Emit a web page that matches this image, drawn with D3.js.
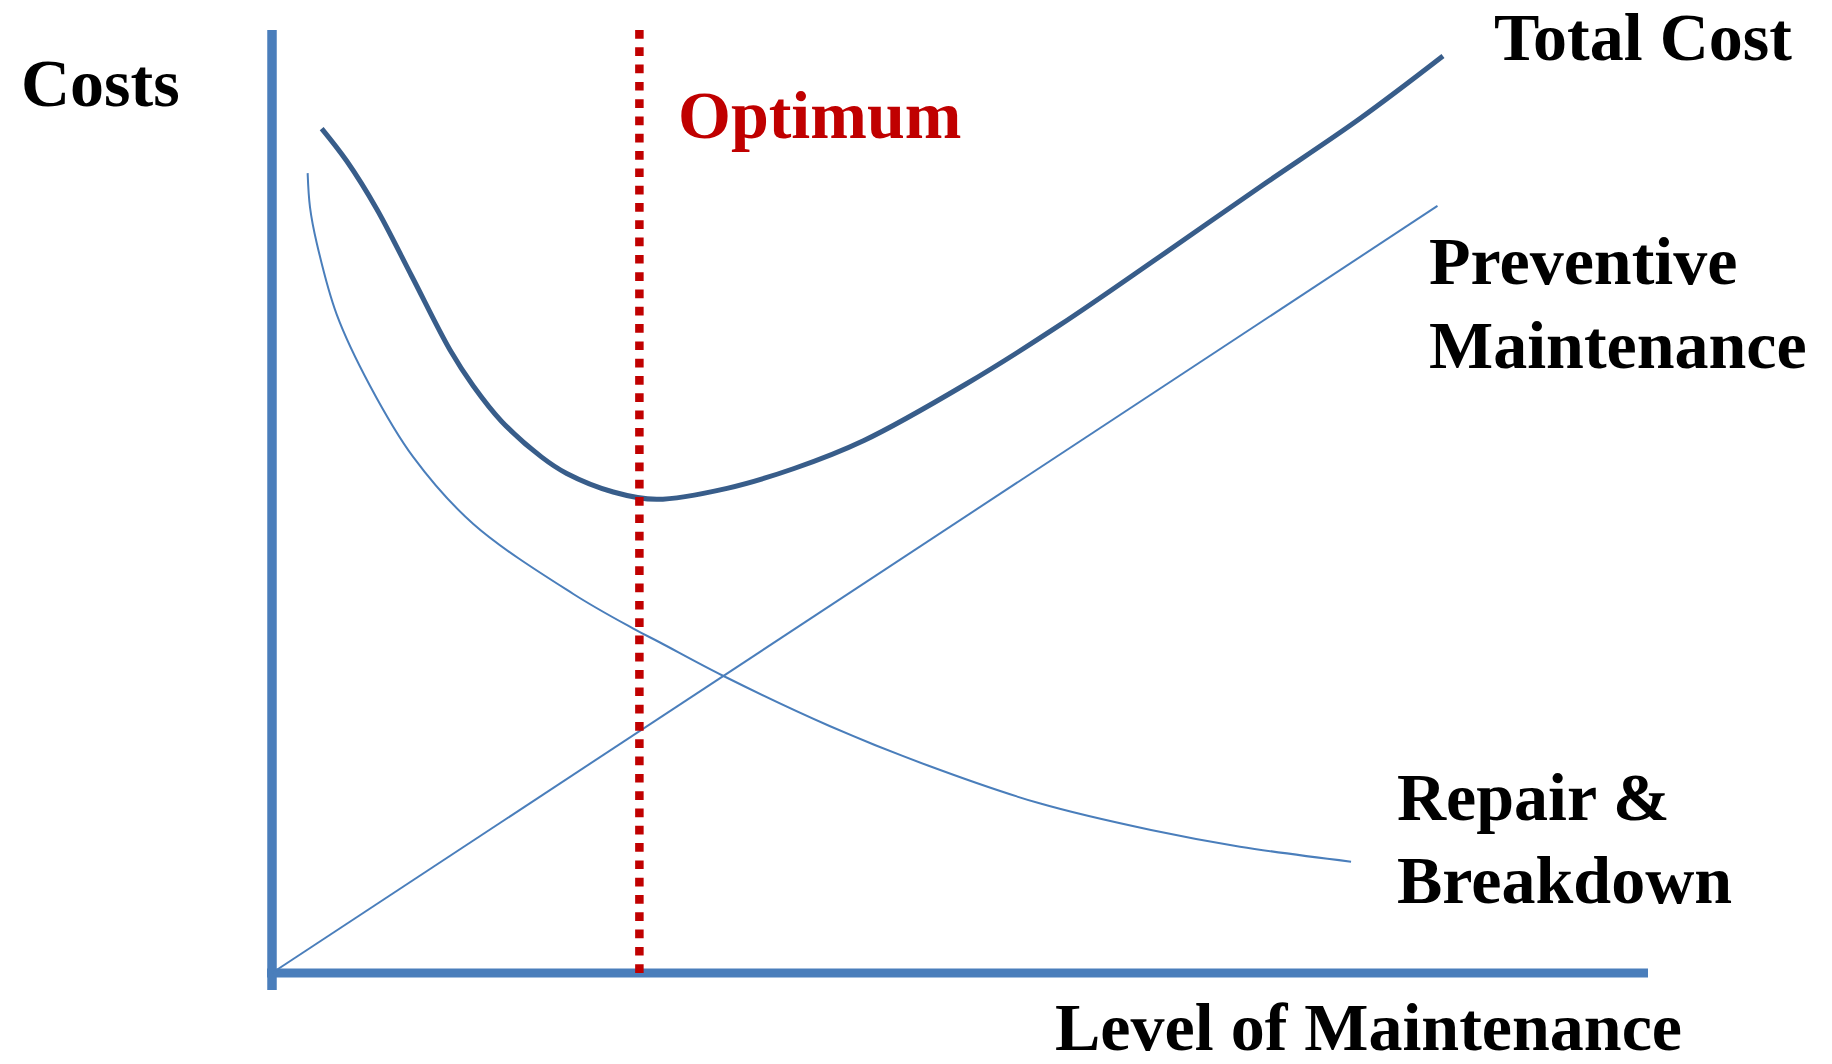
<!DOCTYPE html>
<html>
<head>
<meta charset="utf-8">
<script src="https://cdn.jsdelivr.net/npm/d3@7"></script>
<style>
  html, body { margin: 0; padding: 0; background: #ffffff; }
  svg { display: block; }
  text { font-family: "Liberation Serif", "Times New Roman", serif; font-weight: bold; }
</style>
</head>
<body>
<svg id="chart" width="1832" height="1064"></svg>
<script>
// Level of maintenance (x) against cost (y), both on a 0–100 scale
const totalCostLevel = [3.61, 5.43, 7.61, 10.15, 12.94, 14.63, 16.69, 19.60, 21.42, 24.80, 27.96, 33.07, 37.94, 43.02, 50.44, 57.27, 64.53, 71.80, 79.07, 85.10];
const totalCostValue = [89.83, 86.38, 81.28, 74.15, 66.28, 62.45, 58.68, 54.88, 53.14, 51.17, 50.39, 51.56, 53.67, 56.65, 62.66, 68.94, 76.22, 83.62, 90.90, 97.55];

const repairLevel = [2.59, 2.76, 3.25, 4.70, 7.12, 10.27, 14.63, 21.90, 26.26, 28.20, 32.74, 40.52, 47.67, 55.78, 63.88, 70.35, 78.42];
const repairValue = [85.09, 81.48, 77.67, 70.07, 62.48, 54.88, 47.77, 40.32, 36.64, 35.16, 31.65, 26.28, 22.07, 18.05, 15.21, 13.44, 11.84];

const preventiveLevel = [0, 84.7];
const preventiveValue = [0, 81.6];

const optimumLevel = 26.7;

const axisTitles = { y: "Costs", x: "Level of Maintenance" };
const seriesLabels = {
  total: ["Total Cost"],
  preventive: ["Preventive", "Maintenance"],
  repair: ["Repair &", "Breakdown"],
  optimum: ["Optimum"]
};

// Layout
const originX = 272, originY = 973, plotRight = 1648, plotTop = 33, axisTop = 30, axisBelow = 990;
const FONT = 68;

const svg = d3.select("#chart");

const x = d3.scaleLinear().domain([0, 100]).range([originX, plotRight]);
const y = d3.scaleLinear().domain([0, 100]).range([originY, plotTop]);

const axisColor = "#4A7EBB";
const totalColor = "#385D8A";
const red = "#C00000";

// Axes: plain heavy strokes, no ticks
svg.append("line")
  .attr("x1", x(0)).attr("x2", x(0))
  .attr("y1", axisTop).attr("y2", axisBelow)
  .attr("stroke", axisColor).attr("stroke-width", 9.5);
svg.append("line")
  .attr("x1", x(0) - 5).attr("x2", x(100))
  .attr("y1", y(0)).attr("y2", y(0))
  .attr("stroke", axisColor).attr("stroke-width", 9);

const zip = (xs, ys) => xs.map((v, i) => [v, ys[i]]);
const line = d3.line().x(d => x(d[0])).y(d => y(d[1])).curve(d3.curveCatmullRom.alpha(0.5));

// Preventive maintenance cost
svg.append("path")
  .datum(zip(preventiveLevel, preventiveValue))
  .attr("d", d3.line().x(d => x(d[0])).y(d => y(d[1])))
  .attr("fill", "none").attr("stroke", axisColor).attr("stroke-width", 2);

// Repair & breakdown cost
svg.append("path")
  .datum(zip(repairLevel, repairValue))
  .attr("d", line)
  .attr("fill", "none").attr("stroke", axisColor).attr("stroke-width", 2);

// Total cost
svg.append("path")
  .datum(zip(totalCostLevel, totalCostValue))
  .attr("d", line)
  .attr("fill", "none").attr("stroke", totalColor).attr("stroke-width", 5);

// Optimum marker
svg.append("line")
  .attr("x1", x(optimumLevel)).attr("x2", x(optimumLevel))
  .attr("y1", axisTop).attr("y2", y(0) + 2)
  .attr("stroke", red).attr("stroke-width", 8.5)
  .attr("stroke-dasharray", "8.7 8.6");

// Text labels
function addLabel(lines, left, baseline, lineGap, color, anchor) {
  const t = svg.append("text")
    .attr("x", left).attr("y", baseline)
    .attr("font-size", FONT)
    .attr("fill", color)
    .attr("text-anchor", anchor || "start");
  lines.forEach((s, i) => {
    t.append("tspan").attr("x", left).attr("y", baseline + i * lineGap).text(s);
  });
}

addLabel([axisTitles.y], 21, 106, 0, "#000");
addLabel([axisTitles.x], 1682, 1050, 0, "#000", "end");
addLabel(seriesLabels.total, 1494, 60, 0, "#000");
addLabel(seriesLabels.preventive, 1429, 284, 84, "#000");
addLabel(seriesLabels.repair, 1397, 820, 83, "#000");
addLabel(seriesLabels.optimum, 678, 138, 0, red);
</script>
</body>
</html>
